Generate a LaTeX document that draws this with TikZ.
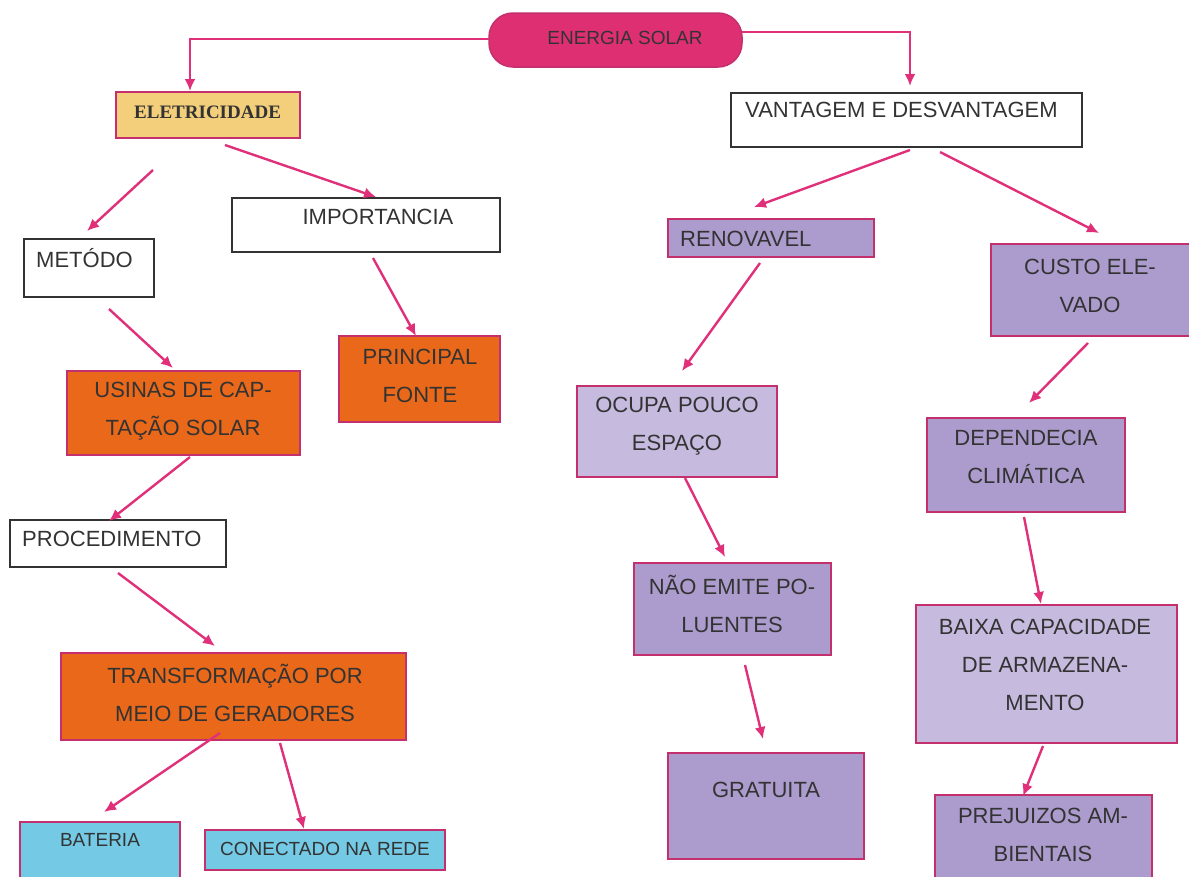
\documentclass[tikz,border=0pt]{standalone}
\usepackage{fontspec}
\setmainfont{Liberation Sans}
\newfontfamily\serifbold{Liberation Serif}
\usetikzlibrary{arrows.meta}
\definecolor{pinkfill}{HTML}{DD2F72}
\definecolor{arrc}{HTML}{E0307A}
\definecolor{yellowfill}{HTML}{F4CF7B}
\definecolor{orangefill}{HTML}{E9681A}
\definecolor{cyanfill}{HTML}{74C9E5}
\definecolor{purplefill}{HTML}{AC9BCD}
\definecolor{lilacfill}{HTML}{C6BADF}
\definecolor{boxline}{HTML}{C4306E}
\definecolor{txtc}{HTML}{333333}
\begin{document}
\begin{tikzpicture}[x=1pt,y=-1pt,
  box/.style={rectangle, draw=boxline, line width=1.5pt, inner sep=0pt, outer sep=0pt},
  wbox/.style={rectangle, draw=black!80, line width=1.7pt, fill=white, inner sep=0pt, outer sep=0pt},
  txt/.style={text=txtc, inner sep=0pt, font=\fontsize{22}{38}\selectfont, align=center},
  stxt/.style={text=txtc, inner sep=0pt, font=\fontsize{19}{24}\selectfont, align=center},
  arr/.style={draw=arrc, line width=2.4pt, -{Latex[length=12pt,width=11pt]}}]
\useasboundingbox[fill=white] (0,0) rectangle (1189,876);

% ---- boxes ----
\node[box, fill=pinkfill, rounded corners=24pt, minimum width=253pt, minimum height=54pt] (energia) at (615.5,40) {};
\node[stxt, text=txtc] (energiat) at (625,38) {ENERGIA SOLAR};

\node[box, fill=yellowfill, minimum width=184pt, minimum height=46pt] (eletr) at (208,115) {};
\node[text=txtc, inner sep=0pt, anchor=west, font=\serifbold\bfseries\fontsize{19}{22}\selectfont] (eletrt) at (134,112) {ELETRICIDADE};

\node[wbox, minimum width=351pt, minimum height=54pt] (vant) at (906.5,120) {};
\node[txt, anchor=west] (vantt) at (745,110) {VANTAGEM E DESVANTAGEM};

\node[wbox, minimum width=130pt, minimum height=58pt] (metodo) at (89,268) {};
\node[txt, anchor=west] (metodot) at (36,258) {METÓDO};

\node[wbox, minimum width=268pt, minimum height=54pt] (import) at (366,225) {};
\node[txt] (importt) at (378,217) {IMPORTANCIA};

\node[box, fill=orangefill, minimum width=161pt, minimum height=86pt] (principal) at (419.5,379) {};
\node[txt] (principalt) at (420,376) {PRINCIPAL\\FONTE};

\node[box, fill=orangefill, minimum width=233pt, minimum height=84pt] (usinas) at (183.5,413) {};
\node[txt] (usinast) at (183,411) {USINAS DE CAP-\\TAÇÃO SOLAR};

\node[wbox, minimum width=216pt, minimum height=47pt] (proced) at (118,543.5) {};
\node[txt, anchor=west] (procedt) at (22,539) {PROCEDIMENTO};

\node[box, fill=orangefill, minimum width=345pt, minimum height=87pt] (transf) at (233.5,696.5) {};
\node[txt] (transft) at (235,693) {TRANSFORMAÇÃO POR\\MEIO DE GERADORES};

\node[box, fill=cyanfill, minimum width=160pt, minimum height=60pt] (bateria) at (100,852) {};
\node[stxt] (bateriat) at (100,840) {BATERIA};

\node[box, fill=cyanfill, minimum width=240pt, minimum height=40pt] (conect) at (325,850) {};
\node[stxt] (conectt) at (325,849) {CONECTADO NA REDE};

\node[box, fill=purplefill, minimum width=206pt, minimum height=38pt] (renov) at (771,238) {};
\node[txt, anchor=west] (renovt) at (680,239) {RENOVAVEL};

\node[box, fill=purplefill, minimum width=201pt, minimum height=92pt] (custo) at (1091.5,290) {};
\node[txt] (custot) at (1090,286) {CUSTO ELE-\\VADO};

\node[box, fill=lilacfill, minimum width=200pt, minimum height=91pt] (ocupa) at (677,431.5) {};
\node[txt] (ocupat) at (677,426) {OCUPA POUCO\\ESPAÇO};

\node[box, fill=purplefill, minimum width=198pt, minimum height=94pt] (depend) at (1026,465) {};
\node[txt] (dependt) at (1026,457) {DEPENDECIA\\CLIMÁTICA};

\node[box, fill=purplefill, minimum width=197pt, minimum height=92pt] (naoemite) at (732.5,609) {};
\node[txt] (naoemitet) at (732,604) {NÃO EMITE PO-\\LUENTES};

\node[box, fill=purplefill, minimum width=196pt, minimum height=106pt] (gratuita) at (766,806) {};
\node[txt] (gratuitat) at (766,790) {GRATUITA};

\node[box, fill=lilacfill, minimum width=261pt, minimum height=138pt] (baixa) at (1046.5,674) {};
\node[txt] (baixat) at (1045,665) {BAIXA CAPACIDADE\\DE ARMAZENA-\\MENTO};

\node[box, fill=purplefill, minimum width=217pt, minimum height=87pt] (prejuizos) at (1043.5,838.5) {};
\node[txt] (prejuizost) at (1043,835) {PREJUIZOS AM-\\BIENTAIS};

% ---- connector end points ----
\coordinate (e1) at (190,91);
\coordinate (e2) at (910,86);
\coordinate (s3) at (225,145); \coordinate (e3) at (376,197);
\coordinate (s4) at (153,170); \coordinate (e4) at (87,231);
\coordinate (s5) at (373,258); \coordinate (e5) at (416,336);
\coordinate (s6) at (109,309); \coordinate (e6) at (173,368);
\coordinate (s7) at (190,457); \coordinate (e7) at (109,521);
\coordinate (s8) at (118,573); \coordinate (e8) at (215,646);
\coordinate (s9) at (220,733); \coordinate (e9) at (104,812);
\coordinate (s10) at (280,743); \coordinate (e10) at (304,829);
\coordinate (s11) at (910,150); \coordinate (e11) at (754,207);
\coordinate (s12) at (940,152); \coordinate (e12) at (1099,233);
\coordinate (s13) at (760,263); \coordinate (e13) at (682,371);
\coordinate (s14) at (1088,343); \coordinate (e14) at (1029,403);
\coordinate (s15) at (685,478); \coordinate (e15) at (725,557);
\coordinate (s16) at (745,665); \coordinate (e16) at (763,739);
\coordinate (s17) at (1024,517); \coordinate (e17) at (1041,604);
\coordinate (s18) at (1043,746); \coordinate (e18) at (1023,796);

% ---- connectors ----
\draw[arr] ([yshift=1pt]energia.west) -| (e1);
\draw[arr] ([yshift=8pt]energia.east) -| (e2);
\draw[arr] (s3) -- (e3);
\draw[arr] (s4) -- (e4);
\draw[arr] (s5) -- (e5);
\draw[arr] (s6) -- (e6);
\draw[arr] (s7) -- (e7);
\draw[arr] (s8) -- (e8);
\draw[arr] (s9) -- (e9);
\draw[arr] (s10) -- (e10);
\draw[arr] (s11) -- (e11);
\draw[arr] (s12) -- (e12);
\draw[arr] (s13) -- (e13);
\draw[arr] (s14) -- (e14);
\draw[arr] (s15) -- (e15);
\draw[arr] (s16) -- (e16);
\draw[arr] (s17) -- (e17);
\draw[arr] (s18) -- (e18);
\end{tikzpicture}
\end{document}
